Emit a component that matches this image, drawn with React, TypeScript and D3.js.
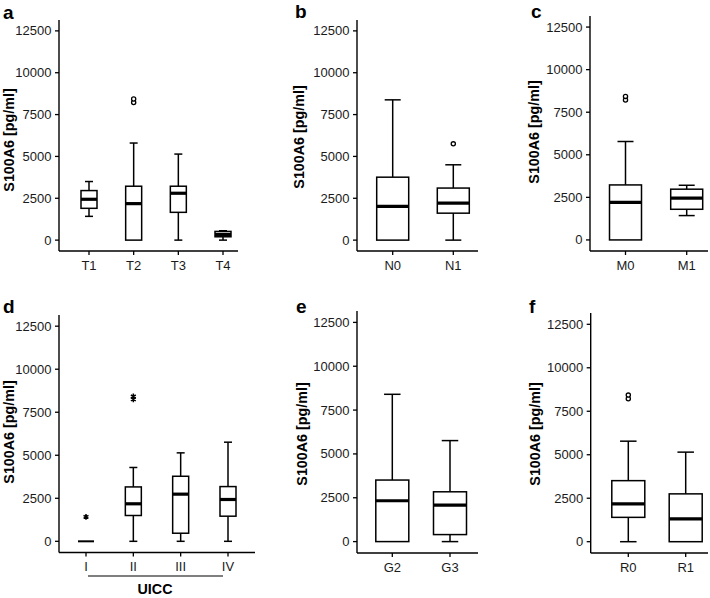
import * as d3 from 'd3';

// five-number summaries: [lower whisker, Q1, median, Q3, upper whisker]
const yTicks = [0, 2500, 5000, 7500, 10000, 12500];
const yTitle = 'S100A6 [pg/ml]';

const tCategories = ['T1', 'T2', 'T3', 'T4'];
const tBoxes = [
  [1420, 1900, 2440, 2960, 3500],
  [0, 0, 2180, 3220, 5800],
  [0, 1660, 2800, 3220, 5140],
  [0, 200, 340, 520, 560],
];
const tOutliers = [[], [8220, 8430], [], []];

const nCategories = ['N0', 'N1'];
const nBoxes = [
  [0, 0, 2010, 3760, 8380],
  [0, 1610, 2210, 3110, 4500],
];
const nOutliers = [[], [5750]];

const mCategories = ['M0', 'M1'];
const mBoxes = [
  [0, 0, 2210, 3230, 5780],
  [1430, 1800, 2450, 2980, 3210],
];
const mOutliers = [[8220, 8430], []];

const uiccCategories = ['I', 'II', 'III', 'IV'];
const uiccBoxes = [
  [0, 0, 0, 0, 0],
  [0, 1500, 2180, 3160, 4290],
  [0, 470, 2740, 3780, 5140],
  [0, 1460, 2430, 3180, 5760],
];
const uiccExtremes = [[1420], [8250, 8420], [], []];

const gCategories = ['G2', 'G3'];
const gBoxes = [
  [0, 0, 2330, 3510, 8400],
  [0, 400, 2080, 2840, 5760],
];
const gOutliers = [[], []];

const rCategories = ['R0', 'R1'];
const rBoxes = [
  [0, 1400, 2170, 3510, 5780],
  [0, 0, 1310, 2750, 5150],
];
const rOutliers = [[8220, 8430], []];

const font = "'Liberation Sans', Arial, Helvetica, sans-serif";

function Panel({ p }) {
  const y = d3.scaleLinear().domain([-650, 13150]).range([p.bottom, p.top]);
  const x = d3.scalePoint().domain(p.cats).range(p.catRange);
  const w = p.boxW;
  const cap = w / 2;
  return (
    <g>
      <text x={p.labelX} y={p.labelY} fontFamily={font} fontWeight="bold" fontSize={19}>{p.label}</text>
      <text
        transform={`translate(${p.titleX},${p.titleY}) rotate(-90)`}
        dy="0.35em"
        textAnchor="middle"
        fontFamily={font}
        fontWeight="bold"
        fontSize={14.3}
      >{yTitle}</text>
      {/* axes */}
      <line x1={p.axisX} x2={p.axisX} y1={p.top} y2={p.bottom} stroke="#000" strokeWidth={1.4} />
      <line x1={p.axisX} x2={p.xEnd} y1={p.bottom} y2={p.bottom} stroke="#000" strokeWidth={1.4} />
      {yTicks.map((t) => (
        <g key={t}>
          <line x1={p.axisX - 4} x2={p.axisX} y1={y(t)} y2={y(t)} stroke="#000" strokeWidth={1.3} />
          <text x={p.axisX - 7.5} y={y(t)} dy="0.35em" textAnchor="end" fontFamily={font} fontSize={13} fill="#1a1a1a">{t}</text>
        </g>
      ))}
      {p.cats.map((c) => (
        <g key={c}>
          <line x1={x(c)} x2={x(c)} y1={p.bottom} y2={p.bottom + 4} stroke="#000" strokeWidth={1.3} />
          <text x={x(c)} y={p.bottom + 14} dy="0.35em" textAnchor="middle" fontFamily={font} fontSize={13} fill="#1a1a1a">{c}</text>
        </g>
      ))}
      {/* boxes */}
      {p.boxes.map((b, i) => {
        const cx = x(p.cats[i]);
        const [lo, q1, med, q3, hi] = b;
        return (
          <g key={i} stroke="#000" fill="none">
            {hi > q3 && <line x1={cx} x2={cx} y1={y(q3)} y2={y(hi)} strokeWidth={1.5} />}
            {hi > q3 && <line x1={cx - cap / 2} x2={cx + cap / 2} y1={y(hi)} y2={y(hi)} strokeWidth={1.5} />}
            {lo < q1 && <line x1={cx} x2={cx} y1={y(q1)} y2={y(lo)} strokeWidth={1.5} />}
            {lo < q1 && <line x1={cx - cap / 2} x2={cx + cap / 2} y1={y(lo)} y2={y(lo)} strokeWidth={1.5} />}
            <rect x={cx - w / 2} y={y(q3)} width={w} height={y(q1) - y(q3)} fill="#fff" strokeWidth={1.5} />
            <line x1={cx - w / 2} x2={cx + w / 2} y1={y(med)} y2={y(med)} strokeWidth={q1 === q3 ? 2 : 3.2} />
          </g>
        );
      })}
      {p.outliers.map((os, i) =>
        os.map((v, j) =>
          p.star ? (
            <path
              key={`${i}-${j}`}
              d={d3.symbol(d3.symbolAsterisk, 22)()}
              transform={`translate(${x(p.cats[i])},${y(v)})`}
              stroke="#000"
              strokeWidth={1.5}
              fill="none"
            />
          ) : (
            <circle key={`${i}-${j}`} cx={x(p.cats[i])} cy={y(v)} r={2.1} fill="#fff" stroke="#000" strokeWidth={1.3} />
          )
        )
      )}
    </g>
  );
}

export default function App() {
  const panels = [
    { label: 'a', labelX: 3, labelY: 19, titleX: 9, titleY: 140, axisX: 59, top: 20, bottom: 251, xEnd: 238,
      cats: tCategories, catRange: [89, 223], boxW: 16, boxes: tBoxes, outliers: tOutliers },
    { label: 'b', labelX: 295, labelY: 18, titleX: 298.5, titleY: 137, axisX: 357, top: 20, bottom: 251, xEnd: 478,
      cats: nCategories, catRange: [392.7, 453.3], boxW: 32, boxes: nBoxes, outliers: nOutliers },
    { label: 'c', labelX: 531, labelY: 18, titleX: 533.5, titleY: 132, axisX: 590, top: 16, bottom: 251, xEnd: 708,
      cats: mCategories, catRange: [625.5, 686.7], boxW: 32, boxes: mBoxes, outliers: mOutliers },
    { label: 'd', labelX: 3, labelY: 313, titleX: 9, titleY: 432, axisX: 59, top: 315, bottom: 552.5, xEnd: 255,
      cats: uiccCategories, catRange: [86, 228], boxW: 16, boxes: uiccBoxes, outliers: uiccExtremes, star: true },
    { label: 'e', labelX: 296, labelY: 313, titleX: 301.5, titleY: 434, axisX: 357, top: 311, bottom: 553, xEnd: 478,
      cats: gCategories, catRange: [392.3, 450], boxW: 33, boxes: gBoxes, outliers: gOutliers },
    { label: 'f', labelX: 529, labelY: 313, titleX: 535, titleY: 434, axisX: 590.7, top: 313, bottom: 553, xEnd: 708,
      cats: rCategories, catRange: [628.3, 685.7], boxW: 33, boxes: rBoxes, outliers: rOutliers },
  ];
  return (
    <svg width={710} height={598} style={{ position: 'absolute', left: 0, top: 0, background: '#fff' }}>
      <rect width={710} height={598} fill="#fff" />
      {panels.map((p) => <Panel key={p.label} p={p} />)}
      <line x1={88} x2={223} y1={576} y2={576} stroke="#000" strokeWidth={1.1} />
      <text x={155} y={594} textAnchor="middle" fontFamily={font} fontWeight="bold" fontSize={14.3}>UICC</text>
    </svg>
  );
}
